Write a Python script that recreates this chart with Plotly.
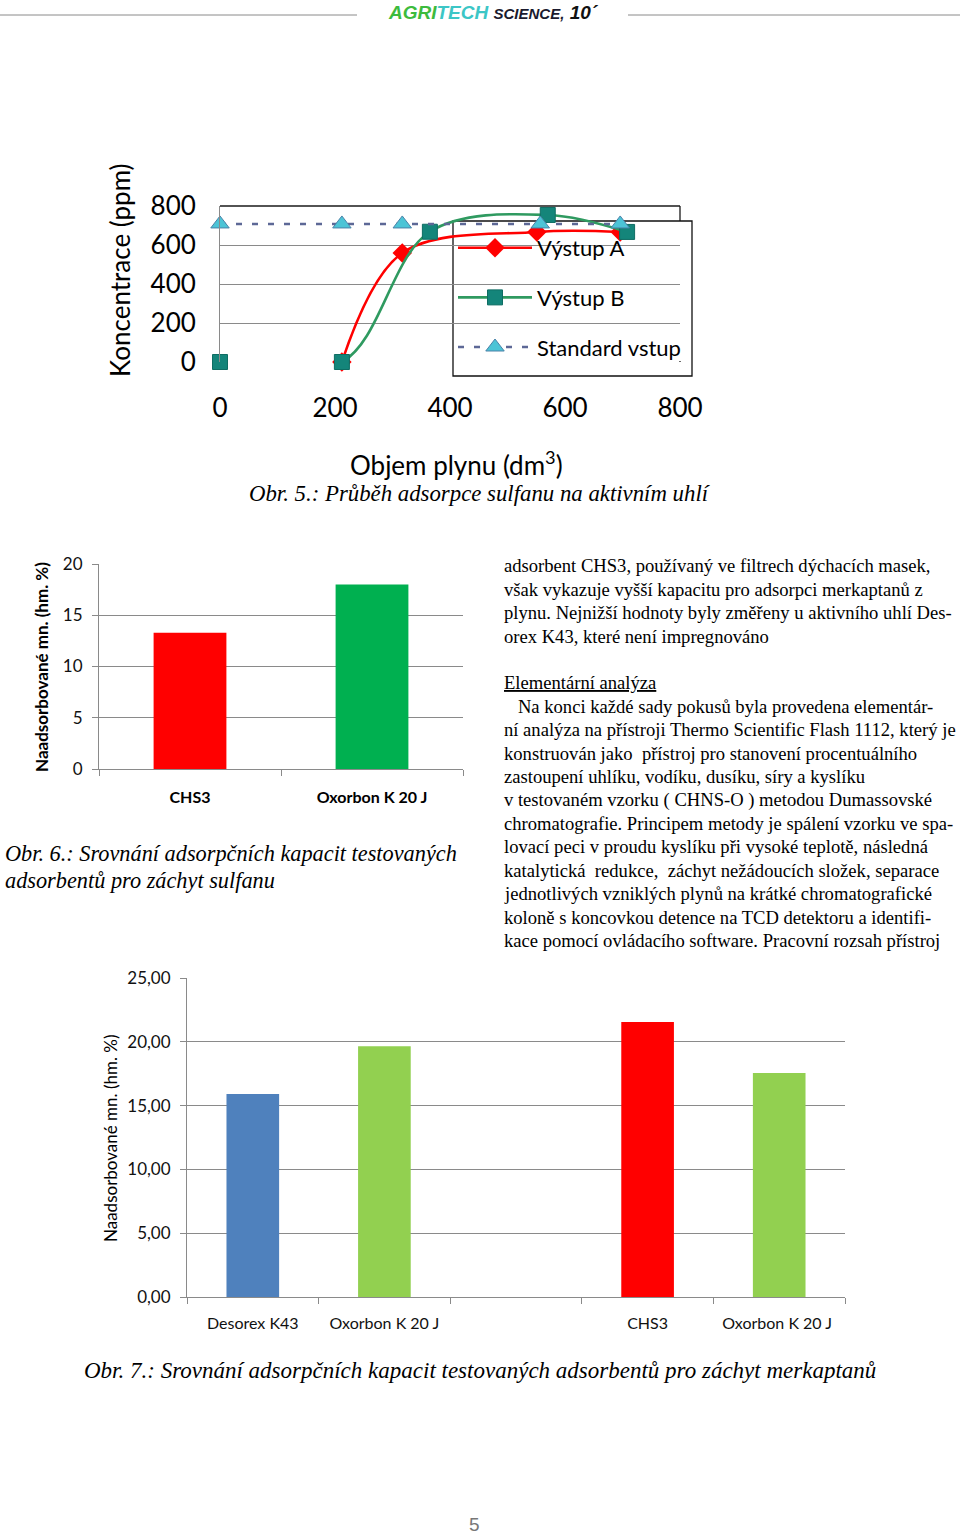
import plotly.graph_objects as go

W, H = 960, 1536

# Obr. 5 - prubeh adsorpce sulfanu
vol_a = [212, 317, 551, 696]
conc_a = [0, 559, 667, 667]
vol_b = [0, 212, 365, 570, 708]
conc_b = [0, 0, 668, 754, 667]
vol_std = [0, 212, 317, 557, 696]
conc_std = [708, 708, 708, 708, 708]

# Obr. 6 - sulfan
sulf_cats = ["CHS3", "Oxorbon K 20 J"]
sulf_vals = [13.3, 18.0]
sulf_colors = ["#ff0000", "#00b050"]

# Obr. 7 - merkaptany (prazdna kategorie uprostred)
merk_cats = ["Desorex K43", "Oxorbon K 20 J", " ", "CHS3", "Oxorbon K 20 J "]
merk_vals = [15.9, 19.65, None, 21.55, 17.55]
merk_colors = ["#4f81bd", "#92d050", "#ffffff", "#ff0000", "#92d050"]

text_lines = [
    "adsorbent CHS3, používaný ve filtrech dýchacích masek,",
    "však vykazuje vyšší kapacitu pro adsorpci merkaptanů z",
    "plynu. Nejnižší hodnoty byly změřeny u aktivního uhlí Des-",
    "orex K43, které není impregnováno",
    "",
    "<u>Elementární analýza</u>",
    "   Na konci každé sady pokusů byla provedena elementár-",
    "ní analýza na přístroji Thermo Scientific Flash 1112, který je",
    "konstruován jako  přístroj pro stanovení procentuálního",
    "zastoupení uhlíku, vodíku, dusíku, síry a kyslíku",
    "v testovaném vzorku ( CHNS-O ) metodou Dumassovské",
    "chromatografie. Principem metody je spálení vzorku ve spa-",
    "lovací peci v proudu kyslíku při vysoké teplotě, následná",
    "katalytická  redukce,  záchyt nežádoucích složek, separace",
    "jednotlivých vzniklých plynů na krátké chromatografické",
    "koloně s koncovkou detence na TCD detektoru a identifi-",
    "kace pomocí ovládacího software. Pracovní rozsah přístroj",
]


def px_x(x):
    return x / W


def px_y(y):
    return 1 - y / H


SANS = "Lato"
SERIF = "Liberation Serif"
GRID = "#8a8a8a"

fig = go.Figure()

fig.add_trace(go.Scatter(
    x=vol_a, y=conc_a, name="Výstup A", mode="lines+markers", cliponaxis=False,
    line=dict(color="#ff0000", width=2.6, shape="spline", smoothing=1.0),
    marker=dict(symbol="diamond", size=15, color="#ff0000"),
    legendgroup="a", xaxis="x", yaxis="y"))
fig.add_trace(go.Scatter(
    x=vol_b, y=conc_b, name="Výstup B", mode="lines+markers", cliponaxis=False,
    line=dict(color="#2f9a60", width=2.6, shape="spline", smoothing=1.0),
    marker=dict(symbol="square", size=15, color="#14857a",
                line=dict(color="#0f6d63", width=1)),
    legendgroup="b", xaxis="x", yaxis="y"))
fig.add_trace(go.Scatter(
    x=vol_std, y=conc_std, name="Standard vstup", mode="lines+markers",
    cliponaxis=False,
    line=dict(color="#5d6896", width=2.6, dash="6px,10px"),
    marker=dict(symbol="triangle-up", size=16, color="#4cc4d6",
                line=dict(color="#4a82a8", width=1)),
    legendgroup="s", xaxis="x", yaxis="y"))

fig.add_trace(go.Bar(
    x=sulf_cats, y=sulf_vals, marker=dict(color=sulf_colors, line=dict(width=0)),
    showlegend=False, xaxis="x2", yaxis="y2"))

fig.add_trace(go.Bar(
    x=merk_cats, y=merk_vals, marker=dict(color=merk_colors, line=dict(width=0)),
    showlegend=False, xaxis="x3", yaxis="y3"))

annotations = []


def note(text, x, y, size, family=SANS, color="#000", xanchor="center",
         angle=0, yanchor="middle"):
    annotations.append(dict(
        text=text, x=px_x(x), y=px_y(y), xref="paper", yref="paper",
        showarrow=False, xanchor=xanchor, yanchor=yanchor, textangle=angle,
        font=dict(family=family, size=size, color=color)))


# header
note("<b><i><span style='color:#3dbb3d'>AGRI</span>"
     "<span style='color:#3cc6c6'>TECH</span> "
     "<span style='font-size:15px;color:#1a1a2e'>SCIENCE,</span> 10´</i></b>",
     493, 12, 19, family="Liberation Sans", color="#111")

# chart 1 titles
note("Koncentrace (ppm)", 120, 270, 26, angle=-90)
note("Objem plynu (dm<sup>3</sup>)", 456, 463, 26)
note("<i>Obr. 5.: Průběh adsorpce sulfanu na aktivním uhlí</i>", 480, 494, 22.8,
     family=SERIF)

# chart 2 titles
note("<b>Naadsorbované mn. (hm. %)</b>", 41, 667, 17, angle=-90)
note("<i>Obr. 6.: Srovnání adsorpčních kapacit testovaných</i>", 3, 853, 22.3,
     family=SERIF, xanchor="left")
note("<i>adsorbentů pro záchyt sulfanu</i>", 3, 880, 22.3,
     family=SERIF, xanchor="left")

# text block
for i, line in enumerate(text_lines):
    if line:
        note(line, 502, 566 + i * 23.4, 18.6, family=SERIF, xanchor="left")

# chart 3 titles
note("Naadsorbované mn. (hm. %)", 110, 1139, 17, angle=-90)
note("<i>Obr. 7.: Srovnání adsorpčních kapacit testovaných adsorbentů "
     "pro záchyt merkaptanů</i>", 480, 1370, 23, family=SERIF)

# page number
note("5", 474, 1524, 19, family="Liberation Sans", color="#777")

shapes = [
    dict(type="line", xref="paper", yref="paper", x0=0, x1=px_x(357),
         y0=px_y(15), y1=px_y(15), line=dict(color="#8a8a8a", width=1)),
    dict(type="line", xref="paper", yref="paper", x0=px_x(628), x1=1,
         y0=px_y(15), y1=px_y(15), line=dict(color="#8a8a8a", width=1)),
    # ramecek grafu (horni a prava hrana)
    dict(type="line", xref="paper", yref="paper", x0=px_x(220), x1=px_x(680),
         y0=px_y(206), y1=px_y(206), line=dict(color="#1a1a1a", width=1.3),
         layer="between"),
    dict(type="line", xref="paper", yref="paper", x0=px_x(680), x1=px_x(680),
         y0=px_y(206), y1=px_y(362), line=dict(color="#1a1a1a", width=1.3),
         layer="between"),
    # legenda: bile pozadi (nulova mrizka zustava videt) a ramecek
    dict(type="rect", xref="paper", yref="paper", x0=px_x(453), x1=px_x(692),
         y0=px_y(361), y1=px_y(221), fillcolor="#ffffff",
         line=dict(width=0), layer="between"),
    dict(type="rect", xref="paper", yref="paper", x0=px_x(453), x1=px_x(692),
         y0=px_y(376), y1=px_y(221), fillcolor="rgba(0,0,0,0)",
         line=dict(color="#111", width=1.3), layer="between"),
]

fig.update_layout(
    width=W, height=H,
    margin=dict(l=0, r=0, t=0, b=0, autoexpand=False),
    paper_bgcolor="white", plot_bgcolor="white",
    separators=", ",
    font=dict(family=SANS, color="#000"),
    annotations=annotations, shapes=shapes,
    bargap=0.6,
    legend=dict(
        x=px_x(453), y=px_y(227), xanchor="left", yanchor="top",
        bgcolor="rgba(255,255,255,0)", borderwidth=0,
        font=dict(family=SANS, size=22, color="#000"),
        tracegroupgap=18, itemwidth=74,
    ),
    xaxis=dict(
        domain=[px_x(220), px_x(680)], range=[0, 800], anchor="y",
        tickvals=[0, 200, 400, 600, 800], showgrid=False,
        showline=False, zeroline=False,
        ticks="", ticklabelstandoff=28,
        tickfont=dict(family=SANS, size=26, color="#000"),
    ),
    yaxis=dict(
        domain=[px_y(362), px_y(206)], range=[0, 800], anchor="x",
        tickvals=[0, 200, 400, 600, 800], showgrid=True, gridcolor=GRID,
        showline=True, linecolor=GRID, linewidth=1, zeroline=False,
        ticks="", ticklabelstandoff=18,
        tickfont=dict(family=SANS, size=26, color="#000"),
    ),
    xaxis2=dict(
        domain=[px_x(99), px_x(463)], anchor="y2", type="category",
        tickson="boundaries", ticks="outside", ticklen=6, tickcolor=GRID,
        showline=True, linecolor=GRID, showgrid=False,
        ticklabelstandoff=14,
        tickfont=dict(family=SANS, size=16, color="#000", weight="bold"),
    ),
    yaxis2=dict(
        domain=[px_y(769), px_y(564)], range=[0, 20], anchor="x2",
        dtick=5, showgrid=True, gridcolor=GRID, showline=True, linecolor=GRID,
        ticks="outside", ticklen=6, tickcolor=GRID, ticklabelstandoff=6,
        tickfont=dict(family=SANS, size=17, color="#111"),
    ),
    xaxis3=dict(
        domain=[px_x(187), px_x(845)], anchor="y3", type="category",
        categoryorder="array", categoryarray=merk_cats,
        tickson="boundaries", ticks="outside", ticklen=6, tickcolor=GRID,
        showline=True, linecolor=GRID, showgrid=False,
        ticklabelstandoff=12,
        tickfont=dict(family=SANS, size=16, color="#111"),
    ),
    yaxis3=dict(
        domain=[px_y(1297), px_y(978)], range=[0, 25], anchor="x3",
        dtick=5, tickformat=".2f", showgrid=True, gridcolor=GRID,
        showline=True, linecolor=GRID,
        ticks="outside", ticklen=6, tickcolor=GRID, ticklabelstandoff=6,
        tickfont=dict(family=SANS, size=17, color="#111"),
    ),
)

fig.write_html(
    "out.html",
    config={"displayModeBar": False},
    post_script="document.body.style.margin='0';"
                "document.documentElement.style.overflow='hidden';",
)
